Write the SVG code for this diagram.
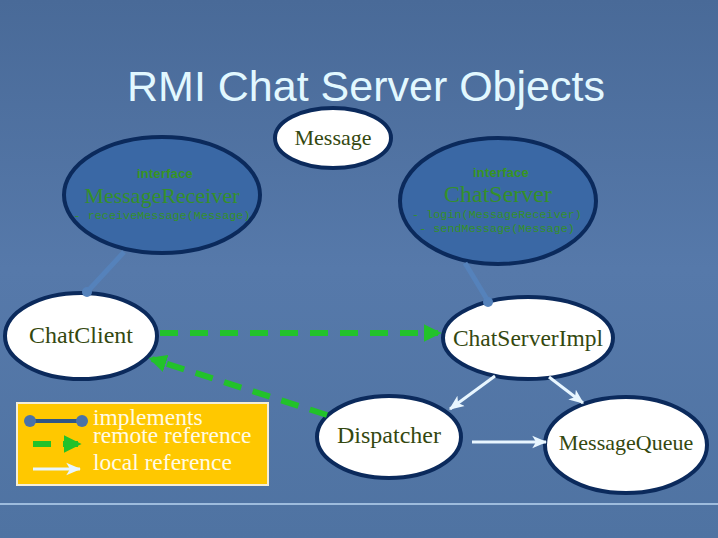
<svg xmlns="http://www.w3.org/2000/svg" width="718" height="538" viewBox="0 0 718 538">
<defs>
<linearGradient id="bg" x1="0" y1="0" x2="0" y2="1">
<stop offset="0" stop-color="#496a98"/>
<stop offset="0.5" stop-color="#5679aa"/>
<stop offset="1" stop-color="#4f73a2"/>
</linearGradient>
<marker id="ga" viewBox="0 0 10 10" refX="8" refY="5" markerWidth="3" markerHeight="3" orient="auto" markerUnits="strokeWidth">
<path d="M0,0 L10,5 L0,10 z" fill="#22c22a"/>
</marker>
<marker id="wa" viewBox="0 0 12 12" refX="11" refY="6" markerWidth="5" markerHeight="5" orient="auto" markerUnits="strokeWidth">
<path d="M0,1 L12,6 L0,11 L3,6 z" fill="#e8f6ff"/>
</marker>
</defs>
<style>
.node{fill:#ffffff;stroke:#0b2a5c;stroke-width:4}
.iface{fill:#3a68a5;stroke:#0b2a5c;stroke-width:4}
.nt{fill:#34480f;text-anchor:middle}
.kw{font-weight:bold;font-size:13px;letter-spacing:0.2px;fill:#38951f;text-anchor:middle}
.in{fill:#35902a;text-anchor:middle}
.op{font-size:11.8px;fill:#35902a;text-anchor:middle}
.impl{stroke:#5582bb;stroke-width:5;fill:none}
.dot{fill:#5582bb}
.remote{stroke:#22c22a;stroke-width:6;stroke-dasharray:18 12;fill:none;marker-end:url(#ga)}
.local{stroke:#e8f6ff;stroke-width:3;fill:none;marker-end:url(#wa)}
.lg{font-size:23.5px;fill:#fffbe6}
</style>
<rect x="0" y="0" width="718" height="538" fill="url(#bg)"/>
<line x1="0" y1="504" x2="718" y2="504" stroke="#b8d4f0" stroke-width="1.5"/>
<text x="366" y="101" font-family="Liberation Sans, sans-serif" font-size="43" fill="#e2f8ff" text-anchor="middle">RMI Chat Server Objects</text>

<g id="Message">
<ellipse class="node" cx="333" cy="138" rx="58" ry="30"/>
<text class="nt" x="333" y="145" font-size="22" font-family="Liberation Serif, serif">Message</text>
</g>
<g id="MessageReceiver">
<ellipse class="iface" cx="162" cy="195" rx="98" ry="58"/>
<text class="kw" x="165" y="178" font-family="Liberation Sans, sans-serif">interface</text>
<text class="in" x="162" y="203" font-size="22" font-family="Liberation Serif, serif">MessageReceiver</text>
<text class="op" x="162" y="219" font-family="Liberation Mono, monospace">- receiveMessage(Message)</text>
</g>
<g id="ChatServer">
<ellipse class="iface" cx="498" cy="201" rx="98" ry="63"/>
<text class="kw" x="501" y="177" font-family="Liberation Sans, sans-serif">interface</text>
<text class="in" x="498" y="202" font-size="24" font-family="Liberation Serif, serif">ChatServer</text>
<text class="op" x="497" y="218" font-family="Liberation Mono, monospace">- login(MessageReceiver)</text>
<text class="op" x="497" y="232" font-family="Liberation Mono, monospace">- sendMessage(Message)</text>
</g>
<g id="ChatClient">
<ellipse class="node" cx="81" cy="336" rx="76" ry="43"/>
<text class="nt" x="81" y="343" font-size="24" font-family="Liberation Serif, serif">ChatClient</text>
</g>
<g id="ChatServerImpl">
<ellipse class="node" cx="528" cy="338" rx="85" ry="41"/>
<text class="nt" x="528" y="346" font-size="23.5" font-family="Liberation Serif, serif">ChatServerImpl</text>
</g>
<g id="Dispatcher">
<ellipse class="node" cx="389" cy="437" rx="72" ry="41"/>
<text class="nt" x="389" y="443" font-size="24" font-family="Liberation Serif, serif">Dispatcher</text>
</g>
<g id="MessageQueue">
<ellipse class="node" cx="626" cy="445" rx="81" ry="48"/>
<text class="nt" x="626" y="450" font-size="22" font-family="Liberation Serif, serif">MessageQueue</text>
</g>

<g id="connectors">
<line class="impl" x1="124" y1="252" x2="87" y2="292"/>
<circle class="dot" cx="87" cy="292" r="5"/>
<line class="impl" x1="465" y1="263" x2="488" y2="301"/>
<circle class="dot" cx="488" cy="302" r="5"/>
<line class="remote" x1="160" y1="333" x2="438" y2="333"/>
<line class="remote" x1="327" y1="415" x2="152" y2="359"/>
<line class="local" x1="495" y1="376" x2="450" y2="409"/>
<line class="local" x1="549" y1="377" x2="583" y2="403"/>
<line class="local" x1="472" y1="442" x2="546" y2="442"/>
</g>

<g id="legend">
<rect x="17" y="403" width="251" height="82" fill="#ffc800" stroke="#f4eed8" stroke-width="2"/>
<line x1="30" y1="421" x2="82" y2="421" stroke="#2f5687" stroke-width="4"/>
<circle cx="30" cy="421" r="6" fill="#4a72a8"/>
<circle cx="82" cy="421" r="6" fill="#4a72a8"/>
<line class="remote" x1="33" y1="444" x2="78" y2="444" stroke-dasharray="16 13 20"/>
<line class="local" x1="33" y1="469" x2="80" y2="469"/>
<text class="lg" x="93" y="425" font-family="Liberation Serif, serif">implements</text>
<text class="lg" x="93" y="443" font-family="Liberation Serif, serif">remote reference</text>
<text class="lg" x="93" y="470" font-family="Liberation Serif, serif">local reference</text>
</g>
</svg>
